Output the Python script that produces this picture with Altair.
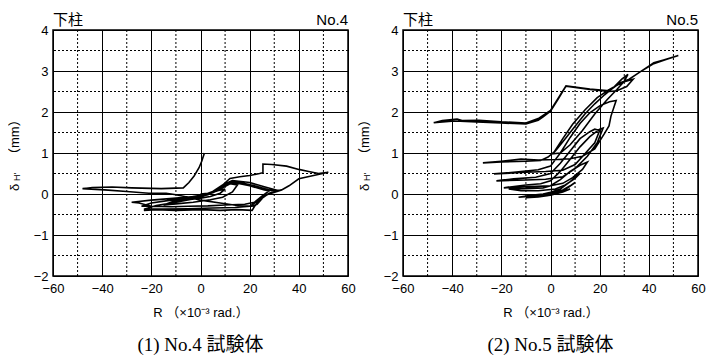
import altair as alt
import pandas as pd

# ---- Panel (1) No.4 : traced hysteresis path (R, delta_H') ----
R4 = [0, 3, 5, 3, 0, -3, -5, -3, 0,
      4, 7, 10, 8, 4, 0, -5, -10, -7, -3, 0,
      5, 9, 12, 15, 13, 9, 4, -3, -10, -15, -11, -5, 0,
      5, 9, 12, 16, 20, 26, 28, 25, 22, 18, 10, 3, -5, -12, -20, -24, -20, -12, -5, 0,
      5, 9, 12, 17, 22, 28, 30, 26, 22, 20, 14, 5, -5, -15, -23, -18, -10, -3, 0,
      5, 10, 13, 20, 27, 32, 27, 24, 22, 21, 15, 8, 0, -10, -18, -23, -20, -25, -28, -20, -10, 0,
      5, 9, 12, 16, 20, 24, 25.4, 25.4, 29, 35, 40, 44, 48, 52, 46, 40, 36, 33, 30, 26, 23, 21, 15, 8, 0,
      -5, -10, -14, -21, -30, -39, -48, -44, -36, -28, -16, -7, -4.7, -2.6, -0.6, 0.5, 1.6]
D4 = [0, 0.02, 0.04, -0.02, -0.06, -0.08, -0.1, -0.06, -0.03,
      0.02, 0.08, 0.12, 0.02, -0.06, -0.1, -0.14, -0.18, -0.12, -0.07, -0.05,
      0.03, 0.15, 0.25, 0.22, 0.05, -0.08, -0.14, -0.2, -0.24, -0.27, -0.18, -0.1, -0.06,
      0.04, 0.18, 0.28, 0.25, 0.2, 0.1, 0.08, -0.05, -0.2, -0.25, -0.27, -0.29, -0.3, -0.31, -0.3, -0.3, -0.22, -0.15, -0.1, -0.06,
      0.05, 0.2, 0.3, 0.27, 0.2, 0.1, 0.08, -0.05, -0.22, -0.3, -0.33, -0.34, -0.36, -0.37, -0.37, -0.28, -0.2, -0.12, -0.08,
      0.06, 0.25, 0.33, 0.28, 0.16, 0.08, -0.02, -0.15, -0.3, -0.4, -0.38, -0.4, -0.38, -0.4, -0.38, -0.4, -0.3, -0.22, -0.2, -0.15, -0.1, -0.05,
      0.06, 0.22, 0.38, 0.42, 0.45, 0.5, 0.52, 0.73, 0.72, 0.68, 0.6, 0.55, 0.5, 0.53, 0.45, 0.37, 0.2, 0.1, 0.06, -0.05, -0.25, -0.3, -0.28, -0.22, -0.15,
      -0.08, -0.02, 0.02, 0.02, 0.06, 0.1, 0.13, 0.16, 0.17, 0.15, 0.13, 0.15, 0.28, 0.44, 0.64, 0.8, 1.0]

# ---- Panel (2) No.5 ----
R5 = [0, 3, 6, 8, 5, 0, -5, -10, -5, 0,
      4, 7, 10, 8, 5, 0, -5, -13, -8, -3, 0,
      4, 8, 12, 10, 6, 2, -5, -12, -17, -10, -3, 0,
      4, 8, 12, 15, 13, 9, 5, 0, -8, -19, -10, -4, 0,
      4, 8, 12, 16, 20, 21.4, 19, 15, 10, 5, -2, -10, -22, -15, -6, 0,
      4, 8, 12, 16, 18, 20, 18, 14, 10, 5, -2, -10, -23, -15, -5, 0,
      4, 8, 12, 16, 20, 24, 26.7, 24.6, 23.8, 21.8, 18, 13, 8, 3, -5, -12, -20, -27.5, -20, -10, -4, -1,
      2, 6, 10, 14, 18, 22, 26, 29, 31.5, 30, 27, 23, 18, 13, 8, 4, 1,
      5, 9, 14, 19, 24, 29, 33.6, 31, 27, 24, 16, 10, 6.3, 3, 0, -3, -5, -10, -20, -30, -39, -47.5,
      -44, -38, -36, -29, -20, -10, -5, 0, 6.3, 16, 24, 28, 32, 36, 40, 42, 46, 52, 47, 42, 37]
D5 = [0, 0.03, 0.08, 0.12, 0.05, -0.03, -0.07, -0.09, -0.06, -0.03,
      0.05, 0.15, 0.28, 0.2, 0.1, 0.02, -0.04, -0.08, -0.03, 0.0, 0.04,
      0.12, 0.3, 0.5, 0.38, 0.22, 0.12, 0.08, 0.08, 0.12, 0.13, 0.15, 0.2,
      0.35, 0.55, 0.7, 0.78, 0.6, 0.4, 0.26, 0.2, 0.18, 0.15, 0.22, 0.25, 0.32,
      0.55, 0.85, 1.15, 1.4, 1.58, 1.61, 1.25, 0.92, 0.62, 0.42, 0.36, 0.34, 0.32, 0.37, 0.41, 0.5,
      0.75, 1.05, 1.35, 1.52, 1.58, 1.55, 1.25, 0.98, 0.72, 0.58, 0.55, 0.53, 0.49, 0.53, 0.59, 0.68,
      1.0, 1.38, 1.72, 1.98, 2.15, 2.25, 2.28, 1.9, 1.66, 1.46, 1.1, 0.92, 0.86, 0.84, 0.83, 0.85, 0.8, 0.76, 0.78, 0.8, 0.82, 0.9,
      1.05, 1.35, 1.65, 1.95, 2.2, 2.42, 2.62, 2.8, 2.92, 2.75, 2.55, 2.3, 1.95, 1.55, 1.2, 1.0, 0.98,
      1.35, 1.7, 2.05, 2.35, 2.55, 2.72, 2.8, 2.62, 2.52, 2.5, 2.55, 2.6, 2.63, 2.3, 2.02, 1.88, 1.8, 1.71, 1.73, 1.76, 1.78, 1.74,
      1.79, 1.83, 1.79, 1.8, 1.76, 1.73, 1.84, 2.04, 2.64, 2.56, 2.52, 2.7, 2.8, 2.96, 3.12, 3.2, 3.27, 3.38, 3.28, 3.18, 3.0]

major_x = [-60, -40, -20, 0, 20, 40, 60]
major_y = [-2, -1, 0, 1, 2, 3, 4]
minor_x = [-50, -30, -10, 10, 30, 50]
minor_y = [-1.5, -0.5, 0.5, 1.5, 2.5, 3.5]

W, H = 295, 246
SANS = "Liberation Sans, Arial, Noto Sans CJK JP"
xs = alt.Scale(domain=[-60, 60], nice=False, zero=False)
ys = alt.Scale(domain=[-2, 4], nice=False, zero=False)
common = dict(grid=True, gridColor="#000", gridWidth=1, ticks=False, domain=False,
              labelFontSize=13, labelFont=SANS, labelColor="#000",
              labelFlush=False, labelOverlap=False, format="d")
xa = alt.Axis(values=major_x, title="R （×10⁻³ rad.）", titleFont=SANS, titleFontSize=13,
              titleFontWeight="normal", titleColor="#000", titlePadding=11,
              labelPadding=6, **common)
ya = alt.Axis(values=major_y, title=None, labelPadding=5, **common)


def txt(t, x, y, size, align="left", font=SANS, angle=0, baseline="middle"):
    kw = dict(align=align, baseline=baseline, fontSize=size, font=font, color="#000")
    if angle:
        kw["angle"] = angle
    return alt.Chart(pd.DataFrame({"t": [t]})).mark_text(**kw).encode(
        x=alt.value(x), y=alt.value(y), text="t:N")


def panel(Rs, Ds, no, caption):
    df = pd.DataFrame({"R": Rs, "d": Ds, "i": list(range(len(Rs)))})
    gx = alt.Chart(pd.DataFrame({"R": minor_x})).mark_rule(
        color="#000", strokeWidth=1, strokeDash=[2, 2]).encode(
        x=alt.X("R:Q", scale=xs, axis=xa))
    gy = alt.Chart(pd.DataFrame({"d": minor_y})).mark_rule(
        color="#000", strokeWidth=1, strokeDash=[2, 2]).encode(
        y=alt.Y("d:Q", scale=ys, axis=ya))
    line = alt.Chart(df).mark_line(color="#000", strokeWidth=1.6, clip=True).encode(
        x=alt.X("R:Q", scale=xs, axis=xa),
        y=alt.Y("d:Q", scale=ys, axis=ya),
        order="i:Q")
    layers = [gx, gy, line,
              txt("下柱", 0, -10, 15, "left", "Noto Sans CJK JP"),
              txt(no, W, -10, 15, "right"),
              txt(caption, W / 2, 315, 19, "center", "Liberation Serif, Times New Roman, Noto Sans CJK JP"),
              txt("δ", -38, 161, 13, "left", angle=270),
              txt("H'", -36, 151, 9, "left", angle=270),
              txt("（mm）", -38, 131, 13, "left", angle=270)]
    return alt.layer(*layers).properties(width=W, height=H)


p1 = panel(R4, D4, "No.4", "(1) No.4 試験体")
p2 = panel(R5, D5, "No.5", "(2) No.5 試験体")

chart = alt.hconcat(p1, p2, spacing=2).configure_view(
    stroke="#000", strokeWidth=1.5).properties(padding={"left": 0, "top": 4, "right": 0, "bottom": 0})

chart.save("out.html", embed_options={"renderer": "svg", "actions": False})
